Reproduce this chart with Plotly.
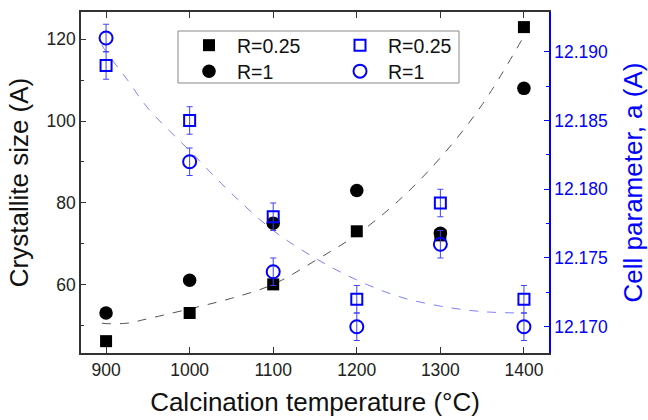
import plotly.graph_objects as go

# ---- data ----
temps = [900, 1000, 1100, 1200, 1300, 1400]
size_r025 = [46.1, 53.0, 60.0, 73.0, 72.0, 123.0]
size_r1 = [53.0, 61.0, 75.0, 83.0, 72.5, 108.0]
cell_r025 = [12.189, 12.185, 12.178, 12.172, 12.179, 12.172]
cell_r1 = [12.191, 12.182, 12.174, 12.170, 12.176, 12.170]
cell_err = [0.001, 0.001, 0.001, 0.001, 0.001, 0.001]

fit_T = [895, 900, 925, 950, 1000, 1050, 1100, 1150, 1200, 1250, 1300, 1350, 1400]
fit_size = [50.5, 50.4, 50.5, 51.6, 54.0, 56.6, 60.0, 65.8, 72.2, 80.5, 91.0, 104.0, 120.8]
fit_cell = [12.1905, 12.1900, 12.1880, 12.1859, 12.1828, 12.1797, 12.1770, 12.1750,
            12.1734, 12.1722, 12.1715, 12.1711, 12.1710]

x_ticks = [900, 1000, 1100, 1200, 1300, 1400]
y_ticks = [60, 80, 100, 120]
y2_ticks = [12.170, 12.175, 12.180, 12.185, 12.190]

FONT = "Liberation Sans, Arial, sans-serif"
BLUE = "#0000ff"

fig = go.Figure()

# fit lines
fig.add_trace(go.Scatter(x=fit_T, y=fit_size, mode="lines", line=dict(color="#555555", width=1, dash="dash", shape="spline"),
                         showlegend=False, hoverinfo="skip"))
fig.add_trace(go.Scatter(x=fit_T, y=fit_cell, yaxis="y2", mode="lines",
                         line=dict(color="#8080ff", width=1, dash="dash", shape="spline"),
                         showlegend=False, hoverinfo="skip"))

# black crystallite size
fig.add_trace(go.Scatter(x=temps, y=size_r1, mode="markers", name="R=1",
                         marker=dict(symbol="circle", size=13.5, color="black"), legend="legend3"))
fig.add_trace(go.Scatter(x=temps, y=size_r025, mode="markers", name="R=0.25",
                         marker=dict(symbol="square", size=12, color="black"), legend="legend"))

# blue cell parameter
fig.add_trace(go.Scatter(x=temps, y=cell_r025, yaxis="y2", mode="markers", name="R=0.25",
                         marker=dict(symbol="square-open", size=11, color=BLUE, line=dict(width=2)),
                         error_y=dict(type="data", array=cell_err, color="#4040ff", thickness=1, width=3),
                         legend="legend2"))
fig.add_trace(go.Scatter(x=temps, y=cell_r1, yaxis="y2", mode="markers", name="R=1",
                         marker=dict(symbol="circle-open", size=13, color=BLUE, line=dict(width=2)),
                         error_y=dict(type="data", array=cell_err, color="#4040ff", thickness=1, width=3),
                         legend="legend4"))

W, H = 648, 420
L, R, T, B = 81, 99, 12, 67
pw, ph = W - L - R, H - T - B

def px_x(p):
    return (p - L) / pw

def px_y(p):
    return (H - B - p) / ph

def leg(xp, yp):
    return dict(x=px_x(xp), y=px_y(yp), xanchor="left", yanchor="top", bgcolor="rgba(0,0,0,0)",
                font=dict(size=19.5, color="#111111"), tracegroupgap=0, itemwidth=46)

fig.update_layout(
    width=W, height=H,
    margin=dict(l=L, r=R, t=T, b=B),
    paper_bgcolor="white", plot_bgcolor="white",
    font=dict(family=FONT, color="black"),
    xaxis=dict(range=[870, 1430], tickvals=x_ticks, ticks="inside", ticklen=6, tickwidth=1,
               tickcolor="#333333", showline=True, linecolor="#333333", linewidth=1.5, mirror="ticks",
               showgrid=False, zeroline=False, tickfont=dict(size=17.5, color="#222222"),
               title=dict(text="Calcination temperature (°C)", font=dict(size=26, color="#111111"), standoff=14),
               automargin=False),
    yaxis=dict(range=[43.2, 126.7], tickvals=y_ticks, ticks="inside", ticklen=5, tickwidth=1,
               tickcolor="#333333", showline=True, linecolor="#333333", linewidth=1.5,
               minor=dict(tickvals=[50, 70, 90, 110], ticks="inside", ticklen=3, tickcolor="#333333"),
               showgrid=False, zeroline=False, tickfont=dict(size=17.5, color="#222222"),
               title=dict(text="Crystallite size (A)", font=dict(size=26, color="#111111"), standoff=10),
               automargin=False),
    yaxis2=dict(range=[12.16809, 12.19289], overlaying="y", side="right", tickvals=y2_ticks,
                tickformat=".3f", ticks="inside", ticklen=5, tickwidth=1, tickcolor=BLUE,
                showline=True, linecolor=BLUE, linewidth=1.5,
                minor=dict(tickvals=[12.1725, 12.1775, 12.1825, 12.1875], ticks="inside", ticklen=3, tickcolor=BLUE),
                showgrid=False, zeroline=False, tickfont=dict(size=17.5, color=BLUE),
                title=dict(text="Cell parameter, a (A)", font=dict(size=26, color=BLUE), standoff=18),
                automargin=False),
    legend=leg(181, 26),
    legend2=leg(332, 26),
    legend3=leg(181, 52),
    legend4=leg(332, 52),
    shapes=[dict(type="rect", xref="paper", yref="paper", x0=px_x(178), x1=px_x(459),
                 y0=px_y(83), y1=px_y(31), line=dict(color="#888888", width=1), fillcolor="rgba(0,0,0,0)")],
)

fig.write_html("out.html")
